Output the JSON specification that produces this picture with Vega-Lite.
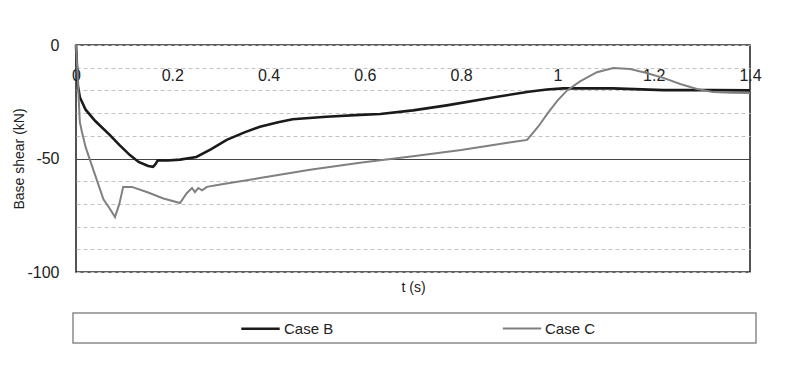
{
  "$schema": "https://vega.github.io/schema/vega-lite/v6.json",
  "width": 674,
  "height": 227,
  "autosize": {"type": "none"},
  "padding": {"left": 76, "top": 45, "right": 49, "bottom": 99},
  "background": "#ffffff",
  "config": {
    "font": "Liberation Sans",
    "view": {"stroke": "#2a2a2a", "strokeWidth": 1.6},
    "legend": {"strokeWidth": 1.5}
  },
  "data": {
    "values": [
      {"t": 0, "v": 0, "case": "Case B"},
      {"t": 0.004, "v": -18, "case": "Case B"},
      {"t": 0.008, "v": -23, "case": "Case B"},
      {"t": 0.02, "v": -28.5, "case": "Case B"},
      {"t": 0.04, "v": -33.5, "case": "Case B"},
      {"t": 0.07, "v": -39.6, "case": "Case B"},
      {"t": 0.09, "v": -44, "case": "Case B"},
      {"t": 0.112, "v": -48.5, "case": "Case B"},
      {"t": 0.13, "v": -51.5, "case": "Case B"},
      {"t": 0.15, "v": -53.3, "case": "Case B"},
      {"t": 0.16, "v": -53.7, "case": "Case B"},
      {"t": 0.165, "v": -52.5, "case": "Case B"},
      {"t": 0.17, "v": -50.8, "case": "Case B"},
      {"t": 0.19, "v": -50.9, "case": "Case B"},
      {"t": 0.216, "v": -50.5, "case": "Case B"},
      {"t": 0.25, "v": -49.3, "case": "Case B"},
      {"t": 0.28, "v": -46, "case": "Case B"},
      {"t": 0.313, "v": -41.8, "case": "Case B"},
      {"t": 0.35, "v": -38.5, "case": "Case B"},
      {"t": 0.382, "v": -36, "case": "Case B"},
      {"t": 0.42, "v": -34, "case": "Case B"},
      {"t": 0.45, "v": -32.7, "case": "Case B"},
      {"t": 0.52, "v": -31.6, "case": "Case B"},
      {"t": 0.59, "v": -30.8, "case": "Case B"},
      {"t": 0.632, "v": -30.4, "case": "Case B"},
      {"t": 0.7, "v": -28.8, "case": "Case B"},
      {"t": 0.77, "v": -26.6, "case": "Case B"},
      {"t": 0.875, "v": -22.8, "case": "Case B"},
      {"t": 0.94, "v": -20.6, "case": "Case B"},
      {"t": 0.978, "v": -19.6, "case": "Case B"},
      {"t": 1.012, "v": -19.1, "case": "Case B"},
      {"t": 1.115, "v": -19.1, "case": "Case B"},
      {"t": 1.22, "v": -19.9, "case": "Case B"},
      {"t": 1.323, "v": -19.9, "case": "Case B"},
      {"t": 1.4, "v": -20, "case": "Case B"},
      {"t": 0, "v": 0, "case": "Case C"},
      {"t": 0.003, "v": -12, "case": "Case C"},
      {"t": 0.008, "v": -34, "case": "Case C"},
      {"t": 0.012, "v": -38, "case": "Case C"},
      {"t": 0.02, "v": -45, "case": "Case C"},
      {"t": 0.036, "v": -55, "case": "Case C"},
      {"t": 0.057, "v": -68, "case": "Case C"},
      {"t": 0.07, "v": -72, "case": "Case C"},
      {"t": 0.081, "v": -75.8, "case": "Case C"},
      {"t": 0.09, "v": -70, "case": "Case C"},
      {"t": 0.098, "v": -62.5, "case": "Case C"},
      {"t": 0.116, "v": -62.5, "case": "Case C"},
      {"t": 0.15, "v": -65, "case": "Case C"},
      {"t": 0.18, "v": -67.5, "case": "Case C"},
      {"t": 0.216, "v": -69.6, "case": "Case C"},
      {"t": 0.23, "v": -65.3, "case": "Case C"},
      {"t": 0.241, "v": -63, "case": "Case C"},
      {"t": 0.247, "v": -64.8, "case": "Case C"},
      {"t": 0.254, "v": -63, "case": "Case C"},
      {"t": 0.262, "v": -64, "case": "Case C"},
      {"t": 0.272, "v": -62.5, "case": "Case C"},
      {"t": 0.3, "v": -61.5, "case": "Case C"},
      {"t": 0.382, "v": -58.6, "case": "Case C"},
      {"t": 0.486, "v": -55, "case": "Case C"},
      {"t": 0.59, "v": -51.9, "case": "Case C"},
      {"t": 0.632, "v": -50.8, "case": "Case C"},
      {"t": 0.7, "v": -49, "case": "Case C"},
      {"t": 0.8, "v": -46.3, "case": "Case C"},
      {"t": 0.9, "v": -43, "case": "Case C"},
      {"t": 0.937, "v": -41.8, "case": "Case C"},
      {"t": 0.96, "v": -36, "case": "Case C"},
      {"t": 0.98, "v": -30, "case": "Case C"},
      {"t": 1.0, "v": -24.5, "case": "Case C"},
      {"t": 1.02, "v": -20, "case": "Case C"},
      {"t": 1.047, "v": -16, "case": "Case C"},
      {"t": 1.082, "v": -12, "case": "Case C"},
      {"t": 1.116, "v": -10.1, "case": "Case C"},
      {"t": 1.151, "v": -10.6, "case": "Case C"},
      {"t": 1.185, "v": -12.3, "case": "Case C"},
      {"t": 1.22, "v": -14.5, "case": "Case C"},
      {"t": 1.255, "v": -17.2, "case": "Case C"},
      {"t": 1.29, "v": -19.4, "case": "Case C"},
      {"t": 1.323, "v": -20.7, "case": "Case C"},
      {"t": 1.36, "v": -21, "case": "Case C"},
      {"t": 1.4, "v": -21.1, "case": "Case C"}
    ]
  },
  "mark": {"type": "line", "interpolate": "linear"},
  "encoding": {
    "x": {
      "field": "t",
      "type": "quantitative",
      "scale": {"domain": [0, 1.4], "nice": false, "zero": false},
      "axis": {
        "orient": "bottom",
        "offset": -207,
        "values": [0, 0.2, 0.4, 0.6, 0.8, 1, 1.2, 1.4],
        "format": "~g",
        "labelFlush": false,
        "labelOverlap": false,
        "labelBound": false,
        "labelFontSize": 16,
        "labelColor": "#222222",
        "labelBaseline": "top",
        "labelPadding": 2,
        "domain": false,
        "ticks": false,
        "grid": false,
        "title": "t (s)",
        "titleFontSize": 14,
        "titleFontWeight": "normal",
        "titleColor": "#222222",
        "titleY": 222,
        "titleBaseline": "middle"
      }
    },
    "y": {
      "field": "v",
      "type": "quantitative",
      "scale": {"domain": [-100, 0], "nice": false},
      "axis": {
        "values": [-100, -90, -80, -70, -60, -50, -40, -30, -20, -10, 0],
        "labelExpr": "datum.value % 50 === 0 ? '' + datum.value : ''",
        "labelFontSize": 16,
        "labelColor": "#222222",
        "labelPadding": 17,
        "domain": false,
        "ticks": false,
        "grid": true,
        "gridColor": {"condition": {"test": "datum.value === -50", "value": "#444444"}, "value": "#c4c4c4"},
        "gridDash": {"condition": {"test": "datum.value === -50", "value": []}, "value": [4, 3]},
        "gridWidth": 1,
        "title": "Base shear (kN)",
        "titleFontSize": 14,
        "titleFontWeight": "normal",
        "titleColor": "#222222",
        "titlePadding": 0
      }
    },
    "color": {
      "field": "case",
      "type": "nominal",
      "scale": {"domain": ["Case B", "Case C"], "range": ["#1a1a1a", "#808080"]},
      "legend": {
        "orient": "none",
        "legendX": -3,
        "legendY": 268,
        "direction": "horizontal",
        "title": null,
        "strokeColor": "#8a8a8a",
        "padding": 6,
        "symbolType": "M-2.4,0H2.4",
        "symbolSize": 256,
        "symbolStrokeWidth": 2.5,
        "symbolOffset": 172,
        "labelOffset": 14,
        "columnPadding": 7,
        "labelFontSize": 15,
        "labelLimit": 0,
        "labelColor": "#222222",
        "labelExpr": "datum.label === 'Case C' ? datum.label + '\u00a0\u00a0\u00a0\u00a0\u00a0\u00a0\u00a0\u00a0\u00a0\u00a0\u00a0\u00a0\u00a0\u00a0\u00a0\u00a0\u00a0\u00a0\u00a0\u00a0\u00a0\u00a0\u00a0\u00a0\u00a0\u00a0\u00a0\u00a0\u00a0\u00a0\u00a0\u00a0\u00a0\u00a0\u00a0\u00a0\u00a0\u200b' : datum.label"
      }
    },
    "strokeWidth": {
      "field": "case",
      "type": "nominal",
      "scale": {"domain": ["Case B", "Case C"], "range": [2.6, 2]},
      "legend": null
    }
  }
}
